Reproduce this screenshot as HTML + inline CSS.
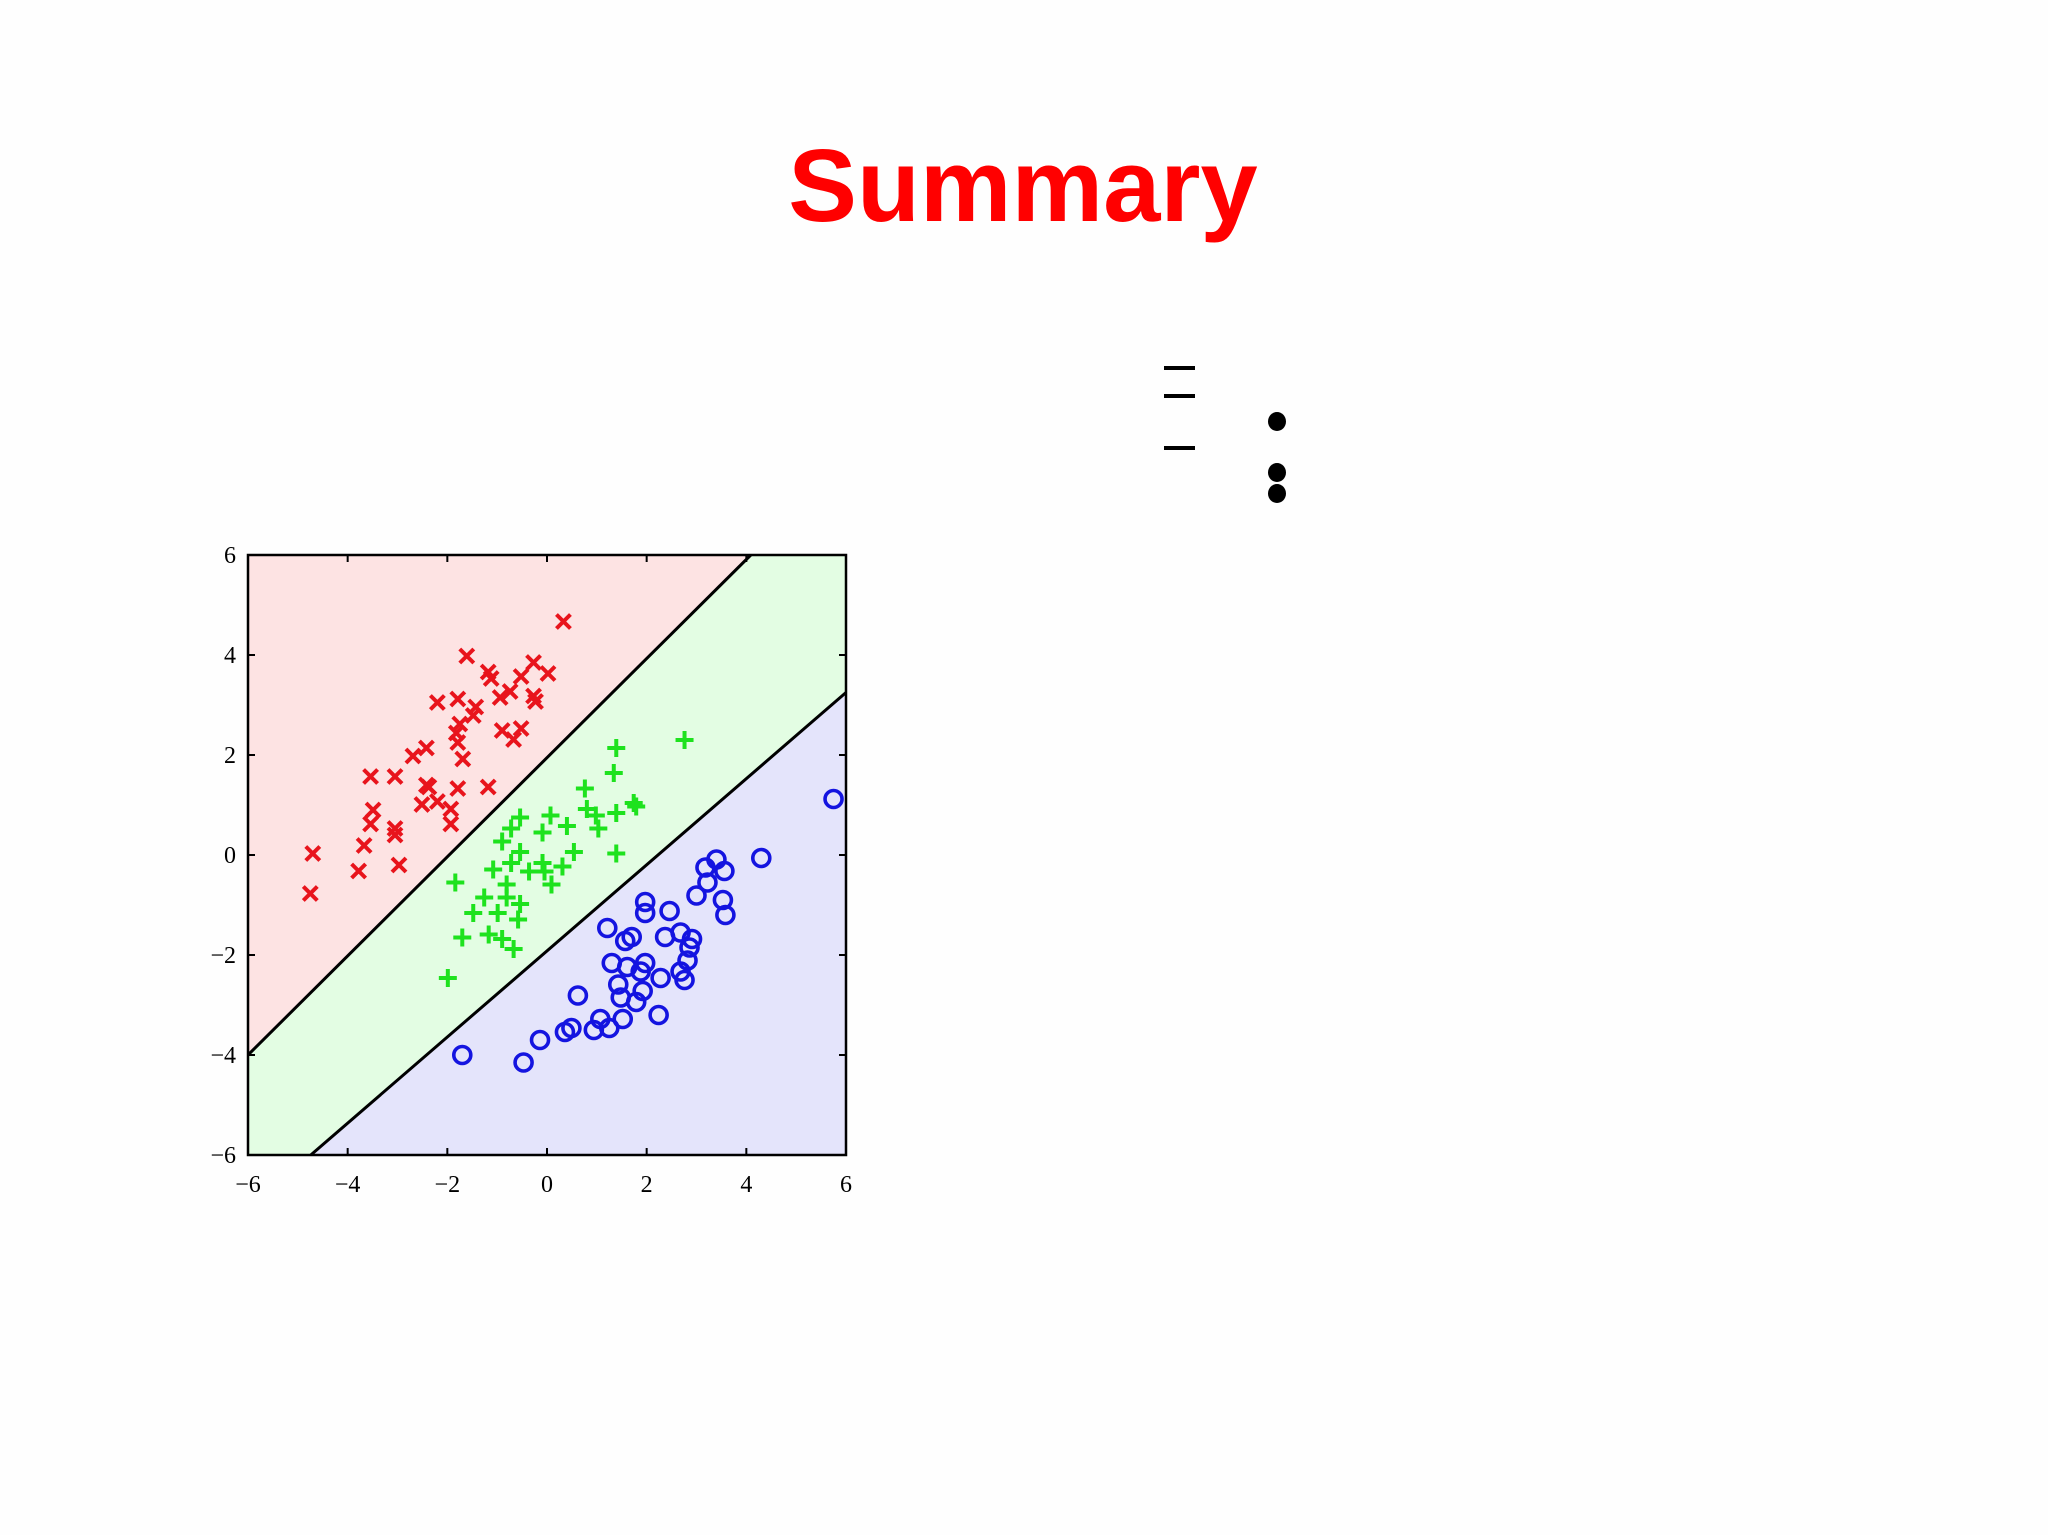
<!DOCTYPE html>
<html><head><meta charset="utf-8"><style>
html,body{margin:0;padding:0;background:#fefefe;}
body{width:2048px;height:1535px;position:relative;overflow:hidden;font-family:"Liberation Sans",sans-serif;}
#title{position:absolute;left:0;width:2046px;top:121px;text-align:center;font-weight:bold;font-size:103px;color:#ff0000;line-height:130px;}
.dash{position:absolute;left:1164px;width:31px;height:4px;background:#000;}
.dot{position:absolute;left:1268px;width:18px;height:19px;border-radius:50%;background:#000;}
svg{position:absolute;left:0;top:0;}
</style></head><body>
<div id="title">Summary</div>
<div class="dash" style="top:366px"></div>
<div class="dash" style="top:394px"></div>
<div class="dash" style="top:446px"></div>
<div class="dot" style="top:412px"></div>
<div class="dot" style="top:463px"></div>
<div class="dot" style="top:484px"></div>
<svg id="chart" width="2048" height="1535"></svg>
<script>
const xTicks=[-6,-4,-2,0,2,4,6];
const yTicks=[-6,-4,-2,0,2,4,6];
const boundary1=[[-6,-4.0],[4.09,6]];
const boundary2=[[-4.74,-6],[6,3.25]];
const redX=[0.33,-1.61,-1.18,-1.12,-0.27,0.02,-0.52,-0.74,-0.94,-0.27,-0.23,-2.2,-1.79,-1.43,-1.48,-1.75,-1.82,-1.79,-1.69,-0.9,-0.67,-0.52,-2.42,-2.69,-3.54,-3.05,-2.42,-1.79,-1.18,-2.51,-2.2,-1.93,-3.49,-3.54,-1.93,-3.05,-3.05,-3.67,-4.7,-3.78,-2.97,-4.75,-2.37];
const redY=[4.67,3.98,3.66,3.53,3.85,3.63,3.57,3.27,3.15,3.18,3.07,3.05,3.12,2.96,2.79,2.62,2.44,2.25,1.92,2.49,2.31,2.53,2.14,1.98,1.57,1.57,1.4,1.33,1.36,1.01,1.07,0.92,0.9,0.62,0.62,0.53,0.4,0.19,0.03,-0.32,-0.2,-0.77,1.36];
const greenX=[2.76,1.39,1.34,0.76,1.74,1.79,0.8,0.98,1.03,1.39,-0.54,-0.72,0.07,0.4,-0.09,-0.9,-0.54,0.54,1.39,-0.72,-1.08,-0.09,-0.05,0.31,0.09,-1.84,-0.81,-1.26,-0.81,-0.54,-0.99,-1.48,-0.58,-1.7,-1.17,-0.9,-0.67,-1.99,-0.36];
const greenY=[2.3,2.14,1.64,1.33,1.04,0.97,0.92,0.79,0.53,0.84,0.75,0.53,0.79,0.58,0.45,0.27,0.06,0.06,0.03,-0.16,-0.29,-0.16,-0.33,-0.23,-0.59,-0.55,-0.59,-0.85,-0.85,-0.98,-1.16,-1.16,-1.29,-1.65,-1.59,-1.68,-1.88,-2.46,-0.33];
const blueX=[5.75,4.3,3.4,3.18,3.56,3.22,3.0,3.53,3.58,1.97,1.97,2.46,2.37,2.68,2.91,2.86,2.82,2.68,2.76,2.28,1.97,1.7,1.57,1.21,1.3,1.61,1.88,1.43,1.92,1.48,1.79,1.52,2.24,0.62,1.07,1.25,0.49,0.36,0.94,-0.14,-1.7,-0.47];
const blueY=[1.12,-0.06,-0.09,-0.25,-0.32,-0.55,-0.81,-0.9,-1.2,-0.94,-1.16,-1.12,-1.64,-1.55,-1.68,-1.85,-2.11,-2.33,-2.5,-2.46,-2.16,-1.64,-1.72,-1.46,-2.16,-2.24,-2.33,-2.59,-2.72,-2.85,-2.94,-3.28,-3.2,-2.81,-3.28,-3.46,-3.46,-3.54,-3.5,-3.7,-4.0,-4.15];

const L=248,R=846,T=555,B=1155;
const sx=v=>L+(v+6)/12*(R-L);
const sy=v=>B-(v+6)/12*(B-T);
const NS='http://www.w3.org/2000/svg';
const svg=document.getElementById('chart');
function mk(tag,attrs,parent){const e=document.createElementNS(NS,tag);for(const k in attrs)e.setAttribute(k,attrs[k]);(parent||svg).appendChild(e);return e;}
const p1=`${sx(-6)},${sy(6)} ${sx(boundary1[1][0])},${sy(6)} ${sx(boundary1[0][0])},${sy(boundary1[0][1])}`;
let e=mk('polygon',{points:p1,fill:'#fde3e3'});


const p2=`${sx(boundary1[1][0])},${sy(6)} ${sx(6)},${sy(6)} ${sx(6)},${sy(boundary2[1][1])} ${sx(boundary2[0][0])},${sy(-6)} ${sx(-6)},${sy(-6)} ${sx(-6)},${sy(boundary1[0][1])}`;
e=mk('polygon',{points:p2,fill:'#e3fde3'});


const p3=`${sx(boundary2[0][0])},${sy(-6)} ${sx(6)},${sy(boundary2[1][1])} ${sx(6)},${sy(-6)}`;
e=mk('polygon',{points:p3,fill:'#e4e4fb'});


[boundary1,boundary2].forEach((b,i)=>{
 const l=mk('line',{x1:sx(b[0][0]),y1:sy(b[0][1]),x2:sx(b[1][0]),y2:sy(b[1][1]),stroke:'#000','stroke-width':3});
 
 
});
redX.forEach((x,i)=>{
 const cx=sx(x),cy=sy(redY[i]),s=7;
 const g=mk('path',{d:`M${cx-s},${cy-s}L${cx+s},${cy+s}M${cx-s},${cy+s}L${cx+s},${cy-s}`,stroke:'#e8141c','stroke-width':4,fill:'none'});
 
 
});
greenX.forEach((x,i)=>{
 const cx=sx(x),cy=sy(greenY[i]),s=9;
 const g=mk('path',{d:`M${cx-s},${cy}L${cx+s},${cy}M${cx},${cy-s}L${cx},${cy+s}`,stroke:'#1ee21e','stroke-width':4,fill:'none'});
 
 
});
blueX.forEach((x,i)=>{
 const g=mk('circle',{cx:sx(x),cy:sy(blueY[i]),r:8.5,stroke:'#1414e0','stroke-width':3.6,fill:'none'});
 
 
});
e=mk('rect',{x:L,y:T,width:R-L,height:B-T,fill:'none',stroke:'#000','stroke-width':2.5});


xTicks.forEach(t=>{
 const x=sx(t);
 mk('line',{x1:x,y1:B,x2:x,y2:B-7,stroke:'#000','stroke-width':2});
 mk('line',{x1:x,y1:T,x2:x,y2:T+7,stroke:'#000','stroke-width':2});
 const tx=mk('text',{x:x,y:1192,'text-anchor':'middle','font-family':'Liberation Serif, serif','font-size':24,fill:'#000'});
 tx.textContent=(t<0?'\u2212':'')+Math.abs(t);
 
 
});
yTicks.forEach(t=>{
 const y=sy(t);
 mk('line',{x1:L,y1:y,x2:L+7,y2:y,stroke:'#000','stroke-width':2});
 mk('line',{x1:R,y1:y,x2:R-7,y2:y,stroke:'#000','stroke-width':2});
 const tx=mk('text',{x:236,y:y+8,'text-anchor':'end','font-family':'Liberation Serif, serif','font-size':24,fill:'#000'});
 tx.textContent=(t<0?'\u2212':'')+Math.abs(t);
 
 
});
</script>
</body></html>
